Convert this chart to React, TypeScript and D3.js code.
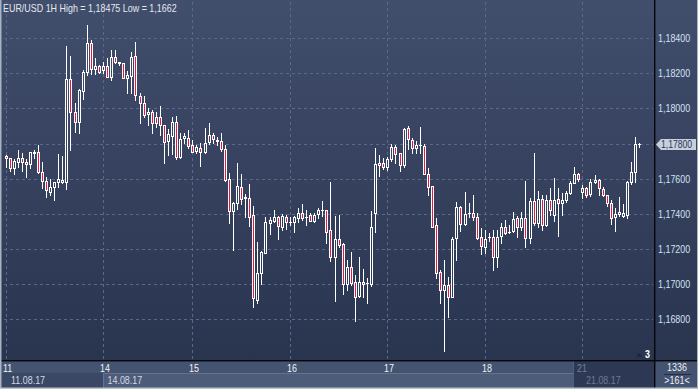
import React, { useEffect, useRef } from 'react';
import * as d3 from 'd3';

// EUR/USD 1H candles, 11.08.17 - 21.08.17
const openPrices = [
  1.17729, 1.17716, 1.17659, 1.17696, 1.17716, 1.17696, 1.17681, 1.17744, 1.17750, 1.17636,
  1.17588, 1.17525, 1.17554, 1.17579, 1.17582, 1.17582, 1.18166, 1.17978, 1.17921, 1.18101,
  1.18206, 1.18371, 1.18225, 1.18244, 1.18219, 1.18244, 1.18177, 1.18291, 1.18265, 1.18257,
  1.18172, 1.18187, 1.18300, 1.18072, 1.18029, 1.17966, 1.17978, 1.17949, 1.17949, 1.17905,
  1.17816, 1.17844, 1.17921, 1.17721, 1.17830, 1.17833, 1.17792, 1.17759, 1.17773, 1.17750,
  1.17807, 1.17848, 1.17816, 1.17816, 1.17767, 1.17596, 1.17417, 1.17459, 1.17550, 1.17493,
  1.17488, 1.17393, 1.16908, 1.17060, 1.17178, 1.17349, 1.17360, 1.17379, 1.17326, 1.17379,
  1.17351, 1.17351, 1.17374, 1.17402, 1.17379, 1.17393, 1.17358, 1.17398, 1.17421, 1.17421,
  1.17307, 1.17155, 1.17256, 1.17227, 1.17000, 1.17094, 1.17009, 1.16931, 1.17012, 1.17007,
  1.17000, 1.17402, 1.17678, 1.17691, 1.17668, 1.17710, 1.17782, 1.17744, 1.17678, 1.17887,
  1.17820, 1.17773, 1.17792, 1.17786, 1.17625, 1.17558, 1.17336, 1.17066, 1.16965, 1.16994,
  1.16927, 1.17260, 1.17440, 1.17341, 1.17402, 1.17402, 1.17379, 1.17265, 1.17208, 1.17265,
  1.17265, 1.17155, 1.17273, 1.17326, 1.17297, 1.17303, 1.17374, 1.17326, 1.17374, 1.17260,
  1.17474, 1.17345, 1.17482, 1.17336, 1.17478, 1.17393, 1.17482, 1.17463, 1.17478, 1.17520,
  1.17577, 1.17625, 1.17525, 1.17545, 1.17511, 1.17579, 1.17592, 1.17539, 1.17507, 1.17459,
  1.17379, 1.17397, 1.17389, 1.17393, 1.17582, 1.17636, 1.17795,
];

const highPrices = [
  1.17735, 1.17718, 1.17710, 1.17763, 1.17748, 1.17710, 1.17752, 1.17763, 1.17792, 1.17696,
  1.17607, 1.17596, 1.17579, 1.17739, 1.17729, 1.18356, 1.18299, 1.18029, 1.18111, 1.18219,
  1.18475, 1.18390, 1.18286, 1.18248, 1.18266, 1.18286, 1.18333, 1.18333, 1.18266, 1.18260,
  1.18215, 1.18323, 1.18377, 1.18086, 1.18071, 1.18001, 1.17991, 1.17981, 1.18014, 1.17908,
  1.17881, 1.17953, 1.17957, 1.17858, 1.17858, 1.17877, 1.17820, 1.17790, 1.17801, 1.17887,
  1.17915, 1.17858, 1.17839, 1.17858, 1.17792, 1.17630, 1.17468, 1.17687, 1.17626, 1.17512,
  1.17569, 1.17444, 1.17240, 1.17189, 1.17379, 1.17379, 1.17421, 1.17387, 1.17398, 1.17393,
  1.17379, 1.17389, 1.17431, 1.17455, 1.17421, 1.17402, 1.17402, 1.17431, 1.17472, 1.17423,
  1.17582, 1.17387, 1.17393, 1.17231, 1.17136, 1.17183, 1.17051, 1.17155, 1.17083, 1.17032,
  1.17415, 1.17773, 1.17735, 1.17716, 1.17725, 1.17797, 1.17792, 1.17746, 1.17887, 1.17902,
  1.17830, 1.17816, 1.17896, 1.17795, 1.17659, 1.17560, 1.17374, 1.17079, 1.17136, 1.17041,
  1.17269, 1.17468, 1.17442, 1.17525, 1.17459, 1.17507, 1.17406, 1.17317, 1.17307, 1.17288,
  1.17307, 1.17307, 1.17345, 1.17364, 1.17336, 1.17411, 1.17387, 1.17411, 1.17588, 1.17488,
  1.17748, 1.17529, 1.17507, 1.17507, 1.17545, 1.17602, 1.17545, 1.17516, 1.17531, 1.17588,
  1.17664, 1.17634, 1.17563, 1.17554, 1.17596, 1.17620, 1.17596, 1.17554, 1.17509, 1.17478,
  1.17431, 1.17497, 1.17455, 1.17588, 1.17696, 1.17835, 1.17805,
];

const lowPrices = [
  1.17668, 1.17645, 1.17626, 1.17668, 1.17645, 1.17611, 1.17659, 1.17716, 1.17634, 1.17545,
  1.17493, 1.17507, 1.17478, 1.17554, 1.17573, 1.17539, 1.17763, 1.17864, 1.17858, 1.18052,
  1.18191, 1.18196, 1.18196, 1.18200, 1.18200, 1.18177, 1.18162, 1.18257, 1.18248, 1.18172,
  1.18088, 1.18088, 1.18048, 1.17915, 1.17953, 1.17905, 1.17858, 1.17896, 1.17848, 1.17691,
  1.17734, 1.17740, 1.17710, 1.17718, 1.17801, 1.17773, 1.17750, 1.17744, 1.17672, 1.17744,
  1.17799, 1.17801, 1.17792, 1.17759, 1.17588, 1.17349, 1.17193, 1.17425, 1.17455, 1.17379,
  1.17330, 1.16866, 1.16889, 1.17000, 1.17174, 1.17284, 1.17351, 1.17256, 1.17307, 1.17313,
  1.17336, 1.17297, 1.17354, 1.17364, 1.17336, 1.17358, 1.17351, 1.17374, 1.17387, 1.17235,
  1.17132, 1.16904, 1.17212, 1.16942, 1.16965, 1.16994, 1.16790, 1.16927, 1.16923, 1.16893,
  1.16988, 1.17297, 1.17617, 1.17653, 1.17649, 1.17702, 1.17687, 1.17643, 1.17668, 1.17767,
  1.17744, 1.17748, 1.17748, 1.17625, 1.17507, 1.17322, 1.17032, 1.16893, 1.16620, 1.16809,
  1.16923, 1.17136, 1.17303, 1.17336, 1.17379, 1.17364, 1.17254, 1.17170, 1.17178, 1.17244,
  1.17079, 1.17098, 1.17231, 1.17284, 1.17292, 1.17297, 1.17269, 1.17307, 1.17208, 1.17231,
  1.17336, 1.17326, 1.17307, 1.17332, 1.17393, 1.17358, 1.17273, 1.17393, 1.17468, 1.17512,
  1.17573, 1.17588, 1.17488, 1.17497, 1.17501, 1.17573, 1.17507, 1.17502, 1.17444, 1.17341,
  1.17303, 1.17387, 1.17379, 1.17374, 1.17569, 1.17582, 1.17778,
];

const closePrices = [
  1.17716, 1.17659, 1.17702, 1.17716, 1.17696, 1.17681, 1.17750, 1.17750, 1.17636, 1.17588,
  1.17535, 1.17554, 1.17579, 1.17596, 1.17592, 1.18166, 1.17981, 1.17921, 1.18105, 1.18209,
  1.18371, 1.18223, 1.18244, 1.18209, 1.18244, 1.18181, 1.18295, 1.18266, 1.18259, 1.18175,
  1.18191, 1.18295, 1.18077, 1.18029, 1.17963, 1.17978, 1.17915, 1.17915, 1.17905, 1.17810,
  1.17854, 1.17921, 1.17725, 1.17824, 1.17843, 1.17786, 1.17753, 1.17780, 1.17750, 1.17801,
  1.17848, 1.17824, 1.17820, 1.17767, 1.17592, 1.17417, 1.17463, 1.17558, 1.17484, 1.17491,
  1.17383, 1.16918, 1.17064, 1.17180, 1.17351, 1.17364, 1.17379, 1.17332, 1.17387, 1.17351,
  1.17353, 1.17379, 1.17402, 1.17374, 1.17380, 1.17360, 1.17393, 1.17421, 1.17422, 1.17297,
  1.17151, 1.17256, 1.17222, 1.16998, 1.17098, 1.17007, 1.16927, 1.17012, 1.17000, 1.17008,
  1.17322, 1.17681, 1.17691, 1.17668, 1.17710, 1.17782, 1.17739, 1.17678, 1.17883, 1.17824,
  1.17773, 1.17792, 1.17793, 1.17625, 1.17554, 1.17326, 1.17060, 1.16965, 1.16994, 1.16927,
  1.17254, 1.17436, 1.17341, 1.17397, 1.17403, 1.17383, 1.17260, 1.17218, 1.17254, 1.17266,
  1.17155, 1.17265, 1.17322, 1.17288, 1.17298, 1.17368, 1.17322, 1.17374, 1.17260, 1.17474,
  1.17345, 1.17482, 1.17336, 1.17478, 1.17421, 1.17478, 1.17463, 1.17479, 1.17516, 1.17573,
  1.17625, 1.17596, 1.17545, 1.17507, 1.17582, 1.17592, 1.17545, 1.17507, 1.17459, 1.17377,
  1.17397, 1.17408, 1.17402, 1.17582, 1.17636, 1.17800, 1.17800,
];

const dayLabels = ['11', '14', '15', '16', '17', '18', '21'];
const dayStarts = [0, 24, 46, 70, 94, 118, 142];
const dateLabels = ['11.08.17', '14.08.17', '21.08.17'];
const priceTicks = [1.168, 1.170, 1.172, 1.174, 1.176, 1.178, 1.180, 1.182, 1.184];
const lastPrice = 1.178;
const title = 'EUR/USD 1H High = 1,18475 Low = 1,1662';

function App() {
  const svgRef = useRef<SVGSVGElement>(null);

  useEffect(() => {
    if (!svgRef.current) return;

    const width = 698;
    const height = 389;
    const plotRight = 655;
    const plotBottom = 361;
    const font = "'Liberation Sans', Arial, sans-serif";
    const fs = 10.5;
    const fmt = (v: number) => d3.format('.5f')(v).replace('.', ',');

    const svg = d3.select(svgRef.current);
    svg.selectAll('*').remove();
    svg.attr('width', width).attr('height', height);

    const grad = svg.append('defs').append('linearGradient')
      .attr('id', 'bg')
      .attr('gradientUnits', 'userSpaceOnUse')
      .attr('x1', 0).attr('y1', 0).attr('x2', 0).attr('y2', plotBottom);
    grad.append('stop').attr('offset', '0%').attr('stop-color', '#414e6c');
    grad.append('stop').attr('offset', '100%').attr('stop-color', '#29344f');

    svg.append('rect')
      .attr('width', width).attr('height', plotBottom)
      .attr('fill', 'url(#bg)');

    const n = openPrices.length;
    const x = d3.scaleLinear().domain([0, n - 1]).range([6, 639.7]);
    const y = d3.scaleLinear().domain([1.168, 1.184]).range([319, 38.3]);

    // grid
    const grid = svg.append('g')
      .attr('stroke', '#5a6987')
      .attr('stroke-dasharray', '3,3')
      .attr('shape-rendering', 'crispEdges');
    priceTicks.forEach(t => {
      const gy = Math.round(y(t)) + 0.5;
      grid.append('line')
        .attr('x1', 4).attr('x2', plotRight - 2)
        .attr('y1', gy).attr('y2', gy);
    });
    dayStarts.forEach(d => {
      const gx = Math.floor(x(d)) + 0.5;
      grid.append('line')
        .attr('x1', gx).attr('x2', gx)
        .attr('y1', 2).attr('y2', plotBottom);
    });

    // candles
    const candles = svg.append('g').attr('shape-rendering', 'crispEdges');
    openPrices.forEach((o, i) => {
      const c = closePrices[i];
      const cx = Math.floor(x(i));
      const bear = c < o;
      candles.append('line')
        .attr('x1', cx + 0.5).attr('x2', cx + 0.5)
        .attr('y1', Math.round(y(highPrices[i])))
        .attr('y2', Math.round(y(lowPrices[i])) + 1)
        .attr('stroke', '#ffffff');
      const top = Math.round(y(Math.max(o, c)));
      const bottom = Math.round(y(Math.min(o, c)));
      if (bottom - top < 1) {
        candles.append('line')
          .attr('x1', cx - 1).attr('x2', cx + 2)
          .attr('y1', top + 0.5).attr('y2', top + 0.5)
          .attr('stroke', '#ffffff');
      } else {
        candles.append('rect')
          .attr('x', cx - 0.5).attr('y', top + 0.5)
          .attr('width', 2).attr('height', bottom - top)
          .attr('fill', bear ? '#e8173f' : 'url(#bg)')
          .attr('stroke', '#ffffff');
      }
    });

    const label = (tx: number, ty: number, txt: string, fill: string) =>
      svg.append('text')
        .attr('x', tx).attr('y', ty)
        .attr('font-family', font).attr('font-size', fs)
        .attr('fill', fill)
        .text(txt);

    // title
    label(3, 12, title, '#e4e9f1');

    // right axis
    priceTicks.forEach(t => {
      if (t === lastPrice) return;
      label(658, Math.round(y(t)) + 4, fmt(t), '#d3e1f4');
    });

    const ly = Math.round(y(lastPrice));
    svg.append('path')
      .attr('d', `M656,${ly + 0.5} L661,${ly - 5} L696,${ly - 5} L696,${ly + 6} L661,${ly + 6} Z`)
      .attr('fill', '#c9ced7');
    label(661, ly + 4, fmt(lastPrice), '#1c3666').attr('class', 'last-price');

    // bars counter in plot corner
    svg.append('path')
      .attr('d', 'M636,356.5 L642,356.5 L639,353 Z')
      .attr('fill', '#1d2539');
    label(645, 358, '3', '#ffffff').attr('font-weight', 'bold');

    // bottom time bar
    svg.append('rect').attr('x', 0).attr('y', plotBottom).attr('width', plotRight).attr('height', 12)
      .attr('fill', '#44536f');
    svg.append('rect').attr('x', 0).attr('y', 373).attr('width', 103).attr('height', 16)
      .attr('fill', '#3a4765');
    svg.append('rect').attr('x', 103).attr('y', 373).attr('width', 470).attr('height', 16)
      .attr('fill', '#4d5c78');
    svg.append('line').attr('x1', 103).attr('x2', 573).attr('y1', 373.5).attr('y2', 373.5)
      .attr('stroke', '#64738e');
    svg.append('line').attr('x1', 103.5).attr('x2', 103.5).attr('y1', 373).attr('y2', 389)
      .attr('stroke', '#64738e');

    dayStarts.forEach((d, k) => {
      if (k === dayStarts.length - 1) return;
      label(Math.floor(x(d)) - 3, 371.5, dayLabels[k], '#f2f5fa');
    });
    label(11, 383.5, dateLabels[0], '#d2dae6');
    label(107.5, 383.5, dateLabels[1], '#d2dae6');

    // dimmed current-day block
    svg.append('rect').attr('x', 573).attr('y', plotBottom).attr('width', plotRight - 573).attr('height', 28)
      .attr('fill', '#2d3954');
    svg.append('line').attr('x1', 573.5).attr('x2', 573.5).attr('y1', plotBottom).attr('y2', 389)
      .attr('stroke', '#50607c');
    const last = dayStarts.length - 1;
    label(Math.floor(x(dayStarts[last])) - 5, 371.5, dayLabels[last], '#71809b');
    label(586, 383.5, dateLabels[2], '#6b7a95');

    // bottom-right counter box
    svg.append('rect').attr('x', plotRight).attr('y', plotBottom).attr('width', width - plotRight).attr('height', 28)
      .attr('fill', '#44536f');
    label(677, 370.5, String(1336), '#eef2f8').attr('text-anchor', 'middle');
    svg.append('line').attr('x1', 664).attr('x2', 691).attr('y1', 374.5).attr('y2', 374.5)
      .attr('stroke', '#222d44');
    label(677, 384, `>${n + 4}<`, '#eef2f8').attr('text-anchor', 'middle');

    // condense the text like the terminal's narrow font
    svg.selectAll<SVGTextElement, unknown>('text').each(function () {
      const len = this.getComputedTextLength();
      const k = this.getAttribute('class') === 'last-price' ? 0.82 : 0.85;
      d3.select(this)
        .attr('textLength', len * k)
        .attr('lengthAdjust', 'spacingAndGlyphs');
    });

    // separators
    svg.append('rect').attr('x', 654).attr('y', 0).attr('width', 1.4).attr('height', height)
      .attr('fill', '#05070c');
    svg.append('rect').attr('x', 0).attr('y', 360).attr('width', width).attr('height', 1.4)
      .attr('fill', '#05070c');

    // outer frame
    svg.append('rect').attr('x', 0).attr('y', 0).attr('width', 1.5).attr('height', height)
      .attr('fill', '#aab3c1');
    svg.append('rect').attr('x', 0).attr('y', height - 1.5).attr('width', width).attr('height', 1.5)
      .attr('fill', '#bcc3ce');
    svg.append('rect').attr('x', width - 1).attr('y', 0).attr('width', 1).attr('height', height)
      .attr('fill', '#aab3c1');
  }, []);

  return (
    <svg ref={svgRef} style={{ position: 'absolute', left: 0, top: 0, display: 'block' }}></svg>
  );
}

export default App;
